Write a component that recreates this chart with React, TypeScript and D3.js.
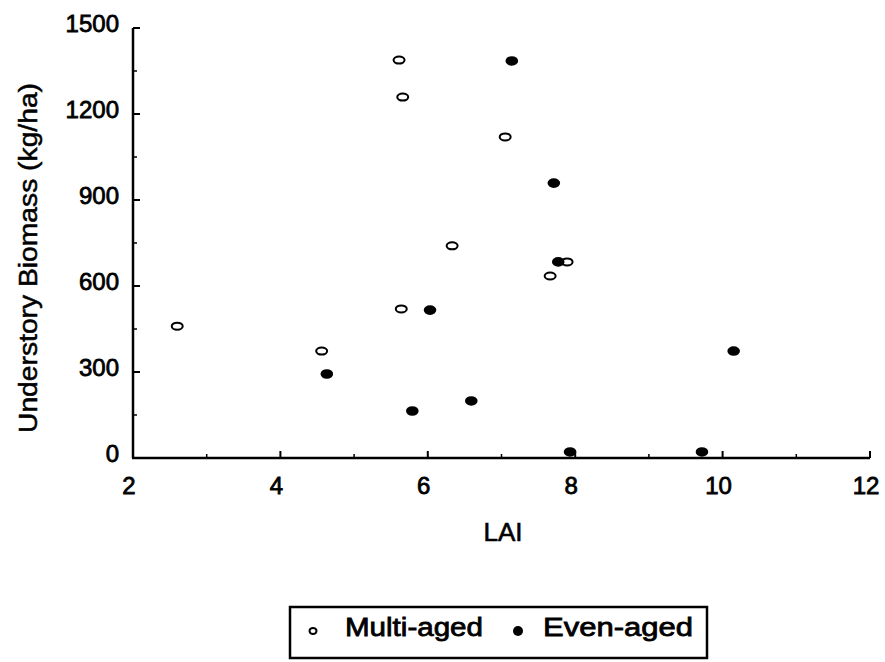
import React, { useRef, useEffect } from 'react'
import * as d3 from 'd3'

// LAI vs understory biomass
const multiLAI = [2.6, 4.56, 5.64, 5.61, 5.66, 6.33, 7.05, 7.66, 7.89]
const multiBiomass = [460, 373, 520, 1388, 1259, 740, 1120, 635, 684]
const evenLAI = [4.63, 5.79, 6.03, 6.59, 7.14, 7.71, 7.77, 10.15, 7.93, 9.72]
const evenBiomass = [293, 164, 516, 199, 1385, 959, 684, 373, 21, 21]

const xTicks = [2, 4, 6, 8, 10, 12]
const xMinor = [3, 5, 7, 9, 11]
const yTicks = [0, 300, 600, 900, 1200, 1500]
const yMinor = [150, 450, 750, 1050, 1350]

const FONT = '"Liberation Sans", Arial, sans-serif'

const App = () => {
    const svgRef = useRef<SVGSVGElement>(null)

    useEffect(() => {
        const svg = d3.select(svgRef.current)
        svg.selectAll('*').remove()

        const x = d3.scaleLinear().domain([2, 12]).range([133, 870])
        const y = d3.scaleLinear().domain([0, 1500]).range([458, 28])

        const g = svg.append('g')

        // axis lines
        g.append('line')
            .attr('x1', x(2) - 1).attr('x2', x(12))
            .attr('y1', y(0)).attr('y2', y(0))
            .attr('stroke', '#000').attr('stroke-width', 2.5)
        g.append('line')
            .attr('x1', x(2)).attr('x2', x(2))
            .attr('y1', y(0)).attr('y2', y(1500))
            .attr('stroke', '#000').attr('stroke-width', 2.5)

        // x ticks (pointing up)
        g.selectAll('.xmaj').data(xTicks.slice(1)).join('line')
            .attr('x1', d => x(d)).attr('x2', d => x(d))
            .attr('y1', y(0)).attr('y2', y(0) - 7)
            .attr('stroke', '#000').attr('stroke-width', 2)
        g.selectAll('.xmin').data(xMinor).join('line')
            .attr('x1', d => x(d)).attr('x2', d => x(d))
            .attr('y1', y(0)).attr('y2', y(0) - 4)
            .attr('stroke', '#000').attr('stroke-width', 1.5)

        // y ticks (pointing right)
        g.selectAll('.ymaj').data(yTicks.slice(1)).join('line')
            .attr('x1', x(2)).attr('x2', x(2) + 7)
            .attr('y1', d => y(d)).attr('y2', d => y(d))
            .attr('stroke', '#000').attr('stroke-width', 2)
        g.selectAll('.ymin').data(yMinor).join('line')
            .attr('x1', x(2)).attr('x2', x(2) + 4)
            .attr('y1', d => y(d)).attr('y2', d => y(d))
            .attr('stroke', '#000').attr('stroke-width', 1.5)

        // tick labels
        g.selectAll('.xl').data(xTicks).join('text')
            .attr('x', d => x(d) - 4).attr('y', 494)
            .attr('text-anchor', 'middle')
            .attr('font-family', FONT).attr('font-size', 24)
            .attr('stroke', '#000').attr('stroke-width', 0.8)
            .text(d => d)
        g.selectAll('.yl').data(yTicks).join('text')
            .attr('x', 119).attr('y', d => y(d) + 4)
            .attr('text-anchor', 'end')
            .attr('font-family', FONT).attr('font-size', 24)
            .attr('stroke', '#000').attr('stroke-width', 0.8)
            .text(d => d)

        // axis titles
        g.append('text')
            .attr('x', 503).attr('y', 541)
            .attr('text-anchor', 'middle')
            .attr('font-family', FONT).attr('font-size', 26)
            .attr('stroke', '#000').attr('stroke-width', 0.6)
            .text('LAI')
        g.append('text')
            .attr('transform', 'translate(37,258) rotate(-90)')
            .attr('text-anchor', 'middle')
            .attr('font-family', FONT).attr('font-size', 25)
            .attr('textLength', 350).attr('lengthAdjust', 'spacingAndGlyphs')
            .attr('stroke', '#000').attr('stroke-width', 0.5)
            .text('Understory Biomass (kg/ha)')

        // points
        g.selectAll('.multi').data(multiLAI).join('ellipse')
            .attr('cx', d => x(d)).attr('cy', (d, i) => y(multiBiomass[i]))
            .attr('rx', 5.5).attr('ry', 3.5)
            .attr('fill', '#fff').attr('stroke', '#000').attr('stroke-width', 2)
        g.selectAll('.even').data(evenLAI).join('ellipse')
            .attr('cx', d => x(d)).attr('cy', (d, i) => y(evenBiomass[i]))
            .attr('rx', 6.3).attr('ry', 4.8)
            .attr('fill', '#000')

        // legend
        const leg = svg.append('g')
        leg.append('rect')
            .attr('x', 290).attr('y', 607).attr('width', 417).attr('height', 51)
            .attr('fill', 'none').attr('stroke', '#000').attr('stroke-width', 2.5)
        leg.append('ellipse')
            .attr('cx', 313).attr('cy', 631).attr('rx', 3.5).attr('ry', 3)
            .attr('fill', '#fff').attr('stroke', '#000').attr('stroke-width', 2)
        leg.append('text')
            .attr('x', 345).attr('y', 636)
            .attr('font-family', FONT).attr('font-size', 26)
            .attr('textLength', 138).attr('lengthAdjust', 'spacingAndGlyphs')
            .attr('stroke', '#000').attr('stroke-width', 0.8)
            .text('Multi-aged')
        leg.append('ellipse')
            .attr('cx', 518).attr('cy', 631).attr('rx', 5).attr('ry', 5)
            .attr('fill', '#000')
        leg.append('text')
            .attr('x', 543).attr('y', 636)
            .attr('font-family', FONT).attr('font-size', 26)
            .attr('textLength', 150).attr('lengthAdjust', 'spacingAndGlyphs')
            .attr('stroke', '#000').attr('stroke-width', 0.8)
            .text('Even-aged')
    }, [])

    return (
        <svg ref={svgRef} width={885} height={662}
            style={{ position: 'absolute', left: 0, top: 0, background: '#fff' }} />
    )
}

export default App
